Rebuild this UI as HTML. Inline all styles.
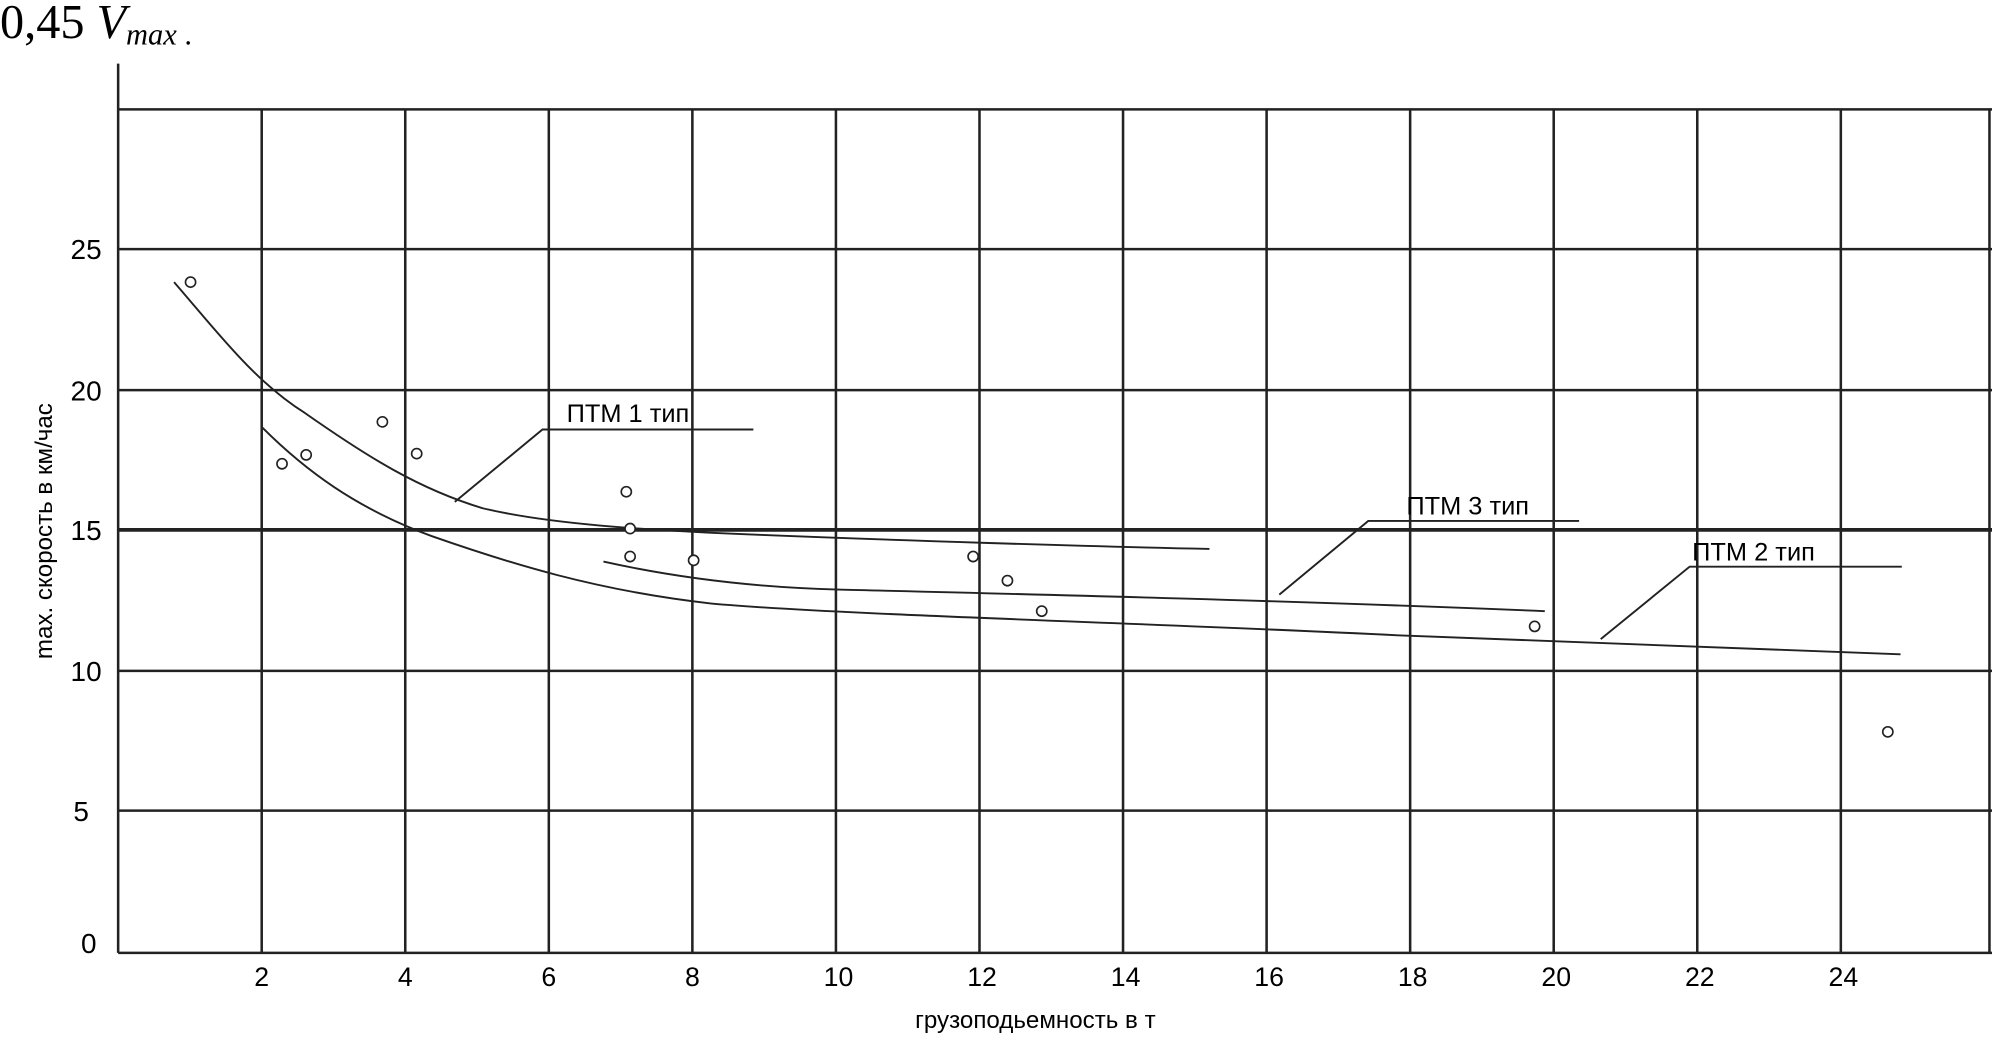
<!DOCTYPE html>
<html><head><meta charset="utf-8"><style>
html,body{margin:0;padding:0;background:#fff;}
svg{display:block;}
</style></head><body>
<svg width="1992" height="1047" viewBox="0 0 1568 824" xmlns="http://www.w3.org/2000/svg">
<rect width="1568" height="824" fill="#fff"/>
<text x="0" y="30" font-family="Liberation Serif, serif" font-size="38" fill="#000">0,45 <tspan font-style="italic">V</tspan><tspan font-style="italic" font-size="24" dy="5">max</tspan><tspan font-size="24"> .</tspan></text>
<g stroke="#222" stroke-width="2" fill="none">
<line x1="93" y1="50" x2="93" y2="750"/>
<line x1="206" y1="86" x2="206" y2="750"/><line x1="319" y1="86" x2="319" y2="750"/>
<line x1="432" y1="86" x2="432" y2="750"/><line x1="545" y1="86" x2="545" y2="750"/>
<line x1="658" y1="86" x2="658" y2="750"/><line x1="771" y1="86" x2="771" y2="750"/>
<line x1="884" y1="86" x2="884" y2="750"/><line x1="997" y1="86" x2="997" y2="750"/>
<line x1="1110" y1="86" x2="1110" y2="750"/><line x1="1223" y1="86" x2="1223" y2="750"/>
<line x1="1336" y1="86" x2="1336" y2="750"/><line x1="1449" y1="86" x2="1449" y2="750"/>
<line x1="1566" y1="86" x2="1566" y2="750"/>
<line x1="93" y1="86" x2="1568" y2="86"/><line x1="93" y1="196" x2="1568" y2="196"/>
<line x1="93" y1="307" x2="1568" y2="307"/><line x1="93" y1="417" x2="1568" y2="417" stroke-width="3"/>
<line x1="93" y1="528" x2="1568" y2="528"/><line x1="93" y1="638" x2="1568" y2="638"/>
<line x1="93" y1="750" x2="1568" y2="750"/>
</g>
<g stroke="#222" stroke-width="1.5" fill="none">
<path d="M137,222 C170,260 200,300 240,325 C290,360 330,385 380,400 C430,412 500,417 600,421 C700,425 850,430 952,432"/>
<path d="M206,336 C240,370 280,400 340,422 C400,443 470,465 560,475 C660,484 900,490 1100,500 C1300,508 1400,512 1496,515"/>
<path d="M475,442 C520,452 580,462 660,464 C780,467 1000,472 1216,481"/>
<polyline points="358,395 427,338 593,338"/>
<polyline points="1007,468 1077,410 1243,410"/>
<polyline points="1260,503 1330,446 1497,446"/>
</g>
<g stroke="#222" stroke-width="1.3" fill="#fff">
<circle cx="150" cy="222" r="4"/><circle cx="222" cy="365" r="4"/><circle cx="241" cy="358" r="4"/>
<circle cx="301" cy="332" r="4"/><circle cx="328" cy="357" r="4"/><circle cx="493" cy="387" r="4"/>
<circle cx="496" cy="416" r="4"/><circle cx="496" cy="438" r="4"/><circle cx="546" cy="441" r="4"/>
<circle cx="766" cy="438" r="4"/><circle cx="793" cy="457" r="4"/><circle cx="820" cy="481" r="4"/>
<circle cx="1208" cy="493" r="4"/><circle cx="1486" cy="576" r="4"/>
</g>
<g font-family="Liberation Sans, DejaVu Sans, sans-serif" font-size="20" fill="#000">
<text x="446" y="332">ПТМ 1 тип</text>
<text x="1107" y="405">ПТМ 3 тип</text>
<text x="1332" y="441">ПТМ 2 тип</text>
</g>
<g font-family="Liberation Sans, DejaVu Sans, sans-serif" font-size="22" fill="#000" text-anchor="end">
<text x="80" y="204">25</text><text x="80" y="315">20</text><text x="80" y="425">15</text>
<text x="80" y="536">10</text><text x="70" y="646">5</text><text x="76" y="750">0</text>
</g>
<g font-family="Liberation Sans, DejaVu Sans, sans-serif" font-size="21" fill="#000" text-anchor="middle">
<text x="206" y="776">2</text><text x="319" y="776">4</text><text x="432" y="776">6</text>
<text x="545" y="776">8</text><text x="660" y="776">10</text><text x="773" y="776">12</text>
<text x="886" y="776">14</text><text x="999" y="776">16</text><text x="1112" y="776">18</text>
<text x="1225" y="776">20</text><text x="1338" y="776">22</text><text x="1451" y="776">24</text>
</g>
<text x="815" y="809" text-anchor="middle" font-family="Liberation Sans, DejaVu Sans, sans-serif" font-size="19" fill="#000">грузоподьемность в т</text>
<text transform="translate(41,418) rotate(-90)" text-anchor="middle" font-family="Liberation Sans, DejaVu Sans, sans-serif" font-size="19" fill="#000">max. скорость в км/час</text>
</svg>
</body></html>
